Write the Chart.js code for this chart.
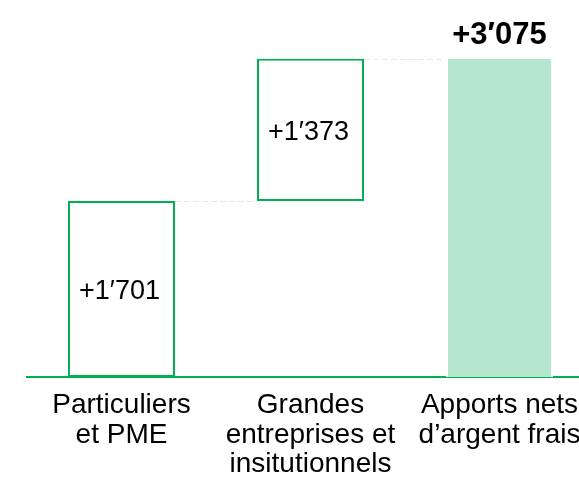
<!DOCTYPE html>
<html>
<head>
<meta charset="utf-8">
<script src="https://cdn.jsdelivr.net/npm/chart.js@4"></script>
<style>
  html, body { margin: 0; padding: 0; background: #fff; overflow: hidden; }
  #wrap { width: 600px; height: 485px; }
</style>
</head>
<body>
<div id="wrap"><canvas id="flowChart"></canvas></div>
<script>
// categories (multi-line tick labels)
var categories = [
    ['Particuliers', 'et PME'],
    ['Grandes', 'entreprises et', 'insitutionnels'],
    ['Apports nets', 'd\u2019argent frais']
];
var increments = [1701, 1373];   // the two inflows
var total = 3075;                // net total
var valueLabels = ['+1\u2032701', '+1\u2032373', '+3\u2032075'];

var green = '#00b050';
var lightGreen = '#b3e6cc';
var connectorColor = '#d6f0e3';

// waterfall ranges built from the values
var ranges = [];
var running = 0;
increments.forEach(function (v) {
    ranges.push([running, running + v]);
    running += v;
});
ranges.push([0, total]);

// dashed lines joining the top of one bar to the next
var connectorPlugin = {
    id: 'connectors',
    beforeDatasetsDraw: function (chart) {
        var ctx = chart.ctx;
        var meta = chart.getDatasetMeta(0);
        var y = chart.scales.y;
        ctx.save();
        ctx.strokeStyle = connectorColor;
        ctx.lineWidth = 1;
        ctx.setLineDash([6, 3]);
        for (var i = 0; i < ranges.length - 1; i++) {
            var a = meta.data[i], b = meta.data[i + 1];
            var py = Math.round(y.getPixelForValue(ranges[i][1])) + 0.5;
            ctx.beginPath();
            ctx.moveTo(a.x + a.width / 2, py);
            ctx.lineTo(b.x - b.width / 2, py);
            ctx.stroke();
        }
        ctx.restore();
    }
};

// value labels: inside the step boxes, bold above the total bar
var labelPlugin = {
    id: 'valueLabels',
    afterDatasetsDraw: function (chart) {
        var ctx = chart.ctx;
        var meta = chart.getDatasetMeta(0);
        var y = chart.scales.y;
        ctx.save();
        ctx.fillStyle = '#000';
        ctx.textAlign = 'center';
        meta.data.forEach(function (bar, i) {
            var top = y.getPixelForValue(ranges[i][1]);
            var bottom = y.getPixelForValue(ranges[i][0]);
            if (i < ranges.length - 1) {
                ctx.font = '27px "Liberation Sans", Arial, sans-serif';
                ctx.textBaseline = 'middle';
                ctx.fillText(valueLabels[i], bar.x - 2, (top + bottom) / 2 + 3);
            } else {
                ctx.font = 'bold 31px "Liberation Sans", Arial, sans-serif';
                ctx.textBaseline = 'alphabetic';
                ctx.fillText(valueLabels[i], bar.x, top - 15);
            }
        });
        ctx.restore();
    }
};

var ctx = document.getElementById('flowChart').getContext('2d');
var flowChart = new Chart(ctx, {
    type: 'bar',
    data: {
        labels: categories,
        datasets: [{
            data: ranges,
            backgroundColor: ['#ffffff', '#ffffff', lightGreen],
            borderColor: [green, green, '#ffffff'],
            borderWidth: [2, 2, { top: 0, bottom: 0, left: 2, right: 2 }],
            borderSkipped: false,
            barPercentage: 0.566,
            categoryPercentage: 1
        }]
    },
    options: {
        responsive: true,
        maintainAspectRatio: false,
        animation: false,
        layout: {
            padding: { top: 25, left: 27, right: 6, bottom: 0 }
        },
        plugins: {
            legend: { display: false },
            tooltip: { enabled: false }
        },
        scales: {
            x: {
                grid: { display: false, drawTicks: false },
                border: { display: true, color: green, width: 2 },
                ticks: {
                    color: '#000',
                    padding: 14,
                    maxRotation: 0,
                    autoSkip: false,
                    font: { family: '"Liberation Sans", Arial, sans-serif', size: 28, lineHeight: 1.05 }
                },
                afterFit: function (scale) { scale.height = 108; }
            },
            y: {
                display: false,
                min: 0,
                max: 3400
            }
        }
    },
    plugins: [connectorPlugin, labelPlugin]
});
</script>
</body>
</html>
